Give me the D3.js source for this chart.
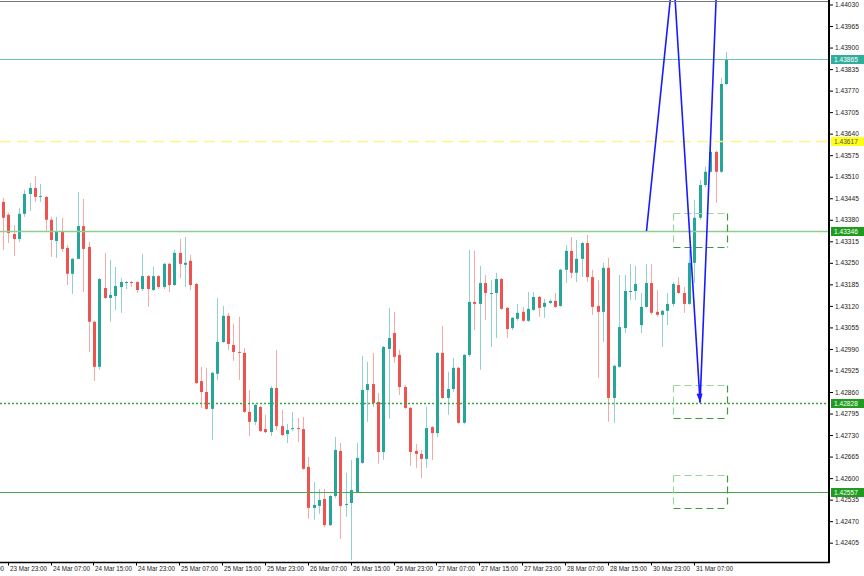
<!DOCTYPE html>
<html><head><meta charset="utf-8">
<script src="https://cdn.jsdelivr.net/npm/d3@7"></script>
<style>body{margin:0;background:#fff}svg{display:block}text{font-family:"Liberation Sans",Arial,sans-serif}</style>
</head><body><svg id="c" width="864" height="576"></svg>
<script>
// ---- data ----
const opens = [1.43434,1.43395,1.43337,1.43322,1.43398,1.43458,1.43476,1.43449,1.43449,1.43380,1.43316,1.43346,1.43295,1.43217,1.43262,1.43361,1.43298,1.43072,1.42936,1.43174,1.43144,1.43150,1.43177,1.43189,1.43192,1.43192,1.43171,1.43210,1.43168,1.43210,1.43177,1.43247,1.43183,1.43280,1.43244,1.43256,1.43186,1.42893,1.42860,1.42809,1.42915,1.43011,1.43090,1.43002,1.42981,1.42978,1.42800,1.42770,1.42815,1.42748,1.42739,1.42872,1.42757,1.42733,1.42748,1.42751,1.42748,1.42634,1.42510,1.42516,1.42537,1.42458,1.42546,1.42682,1.42519,1.42525,1.42558,1.42646,1.42866,1.42884,1.42830,1.42679,1.42990,1.43038,1.42972,1.42875,1.42812,1.42682,1.42673,1.42658,1.42754,1.42736,1.42978,1.42842,1.42869,1.42933,1.42767,1.42972,1.43132,1.43126,1.43189,1.43156,1.43159,1.43201,1.43114,1.43053,1.43081,1.43102,1.43075,1.43108,1.43147,1.43117,1.43129,1.43135,1.43120,1.43229,1.43286,1.43220,1.43262,1.43310,1.43207,1.43120,1.43102,1.43235,1.42842,1.42936,1.43053,1.43162,1.43165,1.43062,1.43117,1.43189,1.43102,1.43093,1.43105,1.43126,1.43183,1.43159,1.43126,1.43250,1.43386,1.43485,1.43525,1.43585,1.43525,1.43790];
const highs = [1.43446,1.43401,1.43364,1.43416,1.43470,1.43491,1.43512,1.43488,1.43452,1.43389,1.43389,1.43386,1.43304,1.43265,1.43464,1.43443,1.43313,1.43075,1.43204,1.43280,1.43259,1.43238,1.43204,1.43195,1.43195,1.43195,1.43277,1.43213,1.43238,1.43213,1.43250,1.43250,1.43289,1.43322,1.43328,1.43274,1.43189,1.42936,1.42933,1.42921,1.43144,1.43120,1.43099,1.43066,1.43087,1.42993,1.42866,1.42824,1.42818,1.42791,1.42878,1.42987,1.42806,1.42764,1.42800,1.42782,1.42785,1.42664,1.42588,1.42567,1.42567,1.42549,1.42724,1.42706,1.42616,1.42655,1.42706,1.42969,1.42951,1.42978,1.42857,1.42999,1.43114,1.43102,1.42987,1.42881,1.42815,1.42703,1.42685,1.42815,1.42757,1.42981,1.43059,1.42921,1.42963,1.42936,1.42975,1.43289,1.43286,1.43241,1.43213,1.43198,1.43220,1.43204,1.43117,1.43087,1.43126,1.43117,1.43162,1.43162,1.43150,1.43141,1.43141,1.43159,1.43232,1.43304,1.43328,1.43319,1.43313,1.43334,1.43229,1.43198,1.43250,1.43265,1.42942,1.43213,1.43213,1.43247,1.43241,1.43159,1.43247,1.43247,1.43168,1.43108,1.43159,1.43192,1.43207,1.43177,1.43289,1.43440,1.43500,1.43540,1.43621,1.43588,1.43808,1.43887];
const lows = [1.43289,1.43310,1.43271,1.43313,1.43389,1.43407,1.43434,1.43434,1.43346,1.43268,1.43265,1.43283,1.43183,1.43156,1.43262,1.43162,1.42981,1.42893,1.42927,1.43141,1.43072,1.43108,1.43099,1.43171,1.43177,1.43159,1.43165,1.43117,1.43165,1.43171,1.43171,1.43162,1.43180,1.43204,1.43177,1.43168,1.42884,1.42812,1.42806,1.42715,1.42896,1.43008,1.42987,1.42954,1.42896,1.42797,1.42727,1.42760,1.42739,1.42736,1.42727,1.42745,1.42727,1.42706,1.42742,1.42709,1.42625,1.42477,1.42474,1.42492,1.42452,1.42455,1.42540,1.42416,1.42483,1.42353,1.42555,1.42643,1.42770,1.42815,1.42643,1.42655,1.42779,1.42948,1.42851,1.42809,1.42637,1.42631,1.42600,1.42631,1.42655,1.42724,1.42839,1.42791,1.42860,1.42764,1.42764,1.42966,1.43047,1.42927,1.43078,1.42996,1.43023,1.43108,1.43023,1.43047,1.43075,1.43072,1.43072,1.43105,1.43087,1.43084,1.43126,1.43114,1.43117,1.43189,1.43204,1.43192,1.43207,1.43192,1.43093,1.42902,1.43011,1.42770,1.42767,1.42933,1.43038,1.43138,1.43138,1.43038,1.43114,1.43093,1.43087,1.42996,1.43062,1.43117,1.43156,1.43099,1.43123,1.43189,1.43380,1.43479,1.43522,1.43431,1.43522,1.43787];
const closes = [1.43386,1.43340,1.43322,1.43398,1.43458,1.43476,1.43449,1.43452,1.43380,1.43319,1.43346,1.43292,1.43217,1.43262,1.43361,1.43292,1.43072,1.42936,1.43201,1.43144,1.43153,1.43180,1.43192,1.43192,1.43189,1.43168,1.43210,1.43171,1.43210,1.43177,1.43247,1.43183,1.43280,1.43247,1.43250,1.43183,1.42887,1.42860,1.42809,1.42918,1.43011,1.43090,1.43005,1.42981,1.42978,1.42800,1.42770,1.42821,1.42742,1.42739,1.42872,1.42757,1.42730,1.42745,1.42751,1.42748,1.42628,1.42510,1.42519,1.42534,1.42458,1.42546,1.42685,1.42516,1.42522,1.42564,1.42661,1.42866,1.42884,1.42827,1.42679,1.42996,1.43023,1.42966,1.42875,1.42812,1.42679,1.42673,1.42658,1.42751,1.42736,1.42978,1.42842,1.42869,1.42933,1.42767,1.42972,1.43132,1.43126,1.43189,1.43159,1.43159,1.43201,1.43111,1.43050,1.43084,1.43099,1.43075,1.43111,1.43147,1.43114,1.43129,1.43135,1.43117,1.43229,1.43286,1.43220,1.43262,1.43310,1.43207,1.43117,1.43102,1.43235,1.42842,1.42939,1.43056,1.43165,1.43165,1.43186,1.43117,1.43189,1.43099,1.43093,1.43105,1.43126,1.43186,1.43159,1.43126,1.43250,1.43386,1.43485,1.43525,1.43585,1.43525,1.43790,1.43865];

const timeTickIdx = [-7,1,9,17,25,33,41,49,57,65,73,81,89,97,105,113,121,129];
const timeLabels = ["23 Mar 15:00","23 Mar 23:00","24 Mar 07:00","24 Mar 15:00","24 Mar 23:00","25 Mar 07:00","25 Mar 15:00","25 Mar 23:00","26 Mar 07:00","26 Mar 15:00","26 Mar 23:00","27 Mar 07:00","27 Mar 15:00","27 Mar 23:00","28 Mar 07:00","28 Mar 15:00","30 Mar 23:00","31 Mar 07:00"];
const priceTicks = [1.44030,1.43965,1.43900,1.43835,1.43770,1.43705,1.43640,1.43575,1.43510,1.43445,1.43380,1.43315,1.43250,1.43185,1.43120,1.43055,1.42990,1.42925,1.42860,1.42795,1.42730,1.42665,1.42600,1.42535,1.42470,1.42405];

const levelPrices = [1.43865,1.43617,1.43346,1.42828,1.42557];
const zigzagIdx = [120,125,130,133.2];
const zigzagPrice = [1.43346,1.44134,1.42828,1.44134];
const zoneTop = [1.43400,1.42881,1.42609];
const zoneBottom = [1.43298,1.42781,1.42509];
const zoneStartIdx = 125, zoneEndIdx = 135;

// ---- scales ----
const svg = d3.select('#c');
const x = d3.scaleLinear().domain([0,135]).range([3.3,726.9]);
const y = d3.scaleLinear().domain([1.42405,1.44030]).range([542.7,4.5]);
const AX = 829, BY = 562.5;
const UP = '#26a69a', DN = '#ef5350';

const candles = opens.map((o,i)=>({i,o,h:highs[i],l:lows[i],c:closes[i]}));
const plot = svg.append('g');

// candles
const cg = plot.append('g').selectAll('g').data(candles).join('g');
cg.append('line')
  .attr('x1',d=>Math.round(x(d.i)-1.5)+1.5).attr('x2',d=>Math.round(x(d.i)-1.5)+1.5)
  .attr('y1',d=>y(d.h)).attr('y2',d=>y(d.l))
  .attr('stroke',d=>d.c>=d.o?UP:DN).attr('stroke-opacity',0.5).attr('stroke-width',1);
cg.append('rect')
  .attr('x',d=>Math.round(x(d.i)-1.5)).attr('width',3)
  .attr('y',d=>y(Math.max(d.o,d.c)))
  .attr('height',d=>Math.max(1,Math.abs(y(d.o)-y(d.c))))
  .attr('fill',d=>d.c>=d.o?UP:DN);

// level lines
const levelStyle = [
  {stroke:'#6cc3b3',w:1,dash:null},
  {stroke:'#fff38a',w:1.6,dash:'11,6'},
  {stroke:'#8dcf8d',w:1.5,dash:null},
  {stroke:'#3aa83a',w:1.3,dash:'2,2'},
  {stroke:'#4aa64a',w:1.2,dash:null}
];
levelPrices.forEach((p,j)=>{
  const s=levelStyle[j];
  plot.append('line').attr('x1',0).attr('x2',AX).attr('y1',Math.round(y(p))+0.5).attr('y2',Math.round(y(p))+0.5)
    .attr('stroke',s.stroke).attr('stroke-width',s.w).attr('stroke-dasharray',s.dash);
});

// dashed zones
zoneTop.forEach((t,j)=>{
  const x0=Math.round(x(zoneStartIdx))+0.5, x1=Math.round(x(zoneEndIdx))+0.5;
  const y0=Math.round(y(t))+0.5, y1=Math.round(y(zoneBottom[j]))+0.5;
  const g=plot.append('g').attr('fill','none').attr('stroke-dasharray','7,4');
  g.append('line').attr('x1',x0).attr('x2',x1).attr('y1',y0).attr('y2',y0).attr('stroke','#9fd39f').attr('stroke-width',1.2);
  g.append('line').attr('x1',x0).attr('x2',x0).attr('y1',y0).attr('y2',y1).attr('stroke','#9fd39f').attr('stroke-width',1.2);
  g.append('line').attr('x1',x0).attr('x2',x1).attr('y1',y1).attr('y2',y1).attr('stroke','#3c9c3c').attr('stroke-width',1.2);
  g.append('line').attr('x1',x1).attr('x2',x1).attr('y1',y0).attr('y2',y1).attr('stroke','#3c9c3c').attr('stroke-width',1.2);
});

// zigzag
const zz = zigzagIdx.map((k,i)=>[x(k),y(zigzagPrice[i])]);
plot.append('path').attr('d',d3.line()(zz)).attr('fill','none').attr('stroke','#1a1aff').attr('stroke-width',1.6);
// arrow head at the third point
{
  const [ax,ay]=zz[2], [bx,by]=zz[1];
  const ang=Math.atan2(ay-by,ax-bx);
  const L=9, W=3;
  const p1=[ax,ay], bxp=ax-L*Math.cos(ang), byp=ay-L*Math.sin(ang);
  const p2=[bxp+W*Math.sin(ang), byp-W*Math.cos(ang)], p3=[bxp-W*Math.sin(ang), byp+W*Math.cos(ang)];
  plot.append('path').attr('d',d3.line()([p1,p2,p3])+'Z').attr('fill','#1a1aff');
}

// frame
svg.append('line').attr('x1',0).attr('x2',AX).attr('y1',1.5).attr('y2',1.5).attr('stroke','#777').attr('stroke-width',1);
svg.append('line').attr('x1',0).attr('x2',AX+1).attr('y1',BY).attr('y2',BY).attr('stroke','#000').attr('stroke-width',1.3);
svg.append('line').attr('x1',AX).attr('x2',AX).attr('y1',0).attr('y2',BY+0.5).attr('stroke','#000').attr('stroke-width',2);

// right axis
const ra = svg.append('g').attr('transform',`translate(${AX+1},0)`)
  .call(d3.axisRight(y).tickValues(priceTicks).tickFormat(d3.format('.5f')).tickSize(3).tickPadding(2));
ra.select('.domain').remove();
ra.selectAll('line').attr('stroke','#000');
ra.selectAll('text').attr('font-size','6.6px').attr('fill','#222').attr('font-family','"Liberation Sans",Arial,sans-serif');

// bottom axis
const ba = svg.append('g').attr('transform',`translate(0,${BY})`)
  .call(d3.axisBottom(x).tickValues(timeTickIdx).tickFormat((d,i)=>timeLabels[i]).tickSize(3).tickPadding(1));
ba.select('.domain').remove();
ba.selectAll('.tick').attr('transform',d=>`translate(${Math.round(x(d)-1)+0.5},0)`);
ba.selectAll('line').attr('stroke','#000');
ba.selectAll('text').attr('text-anchor','start').attr('dx','1.5').attr('font-size','6.3px').attr('fill','#222')
  .attr('font-family','"Liberation Sans",Arial,sans-serif');

// price label boxes
const boxFill = ['#2fae9e','#ffff1a','#1f9c1f','#1f9c1f','#1f9c1f'];
const boxText = ['#fff','#555','#fff','#fff','#fff'];
levelPrices.forEach((p,j)=>{
  const yy=Math.round(y(p))+0.5;
  svg.append('rect').attr('x',AX+2).attr('y',yy-4.5).attr('width',864-AX-2).attr('height',9).attr('fill',boxFill[j]);
  svg.append('text').attr('x',AX+5).attr('y',yy).attr('dy','0.35em').attr('font-size','6.6px').attr('fill',boxText[j])
    .text(d3.format('.5f')(p));
});
</script></body></html>
